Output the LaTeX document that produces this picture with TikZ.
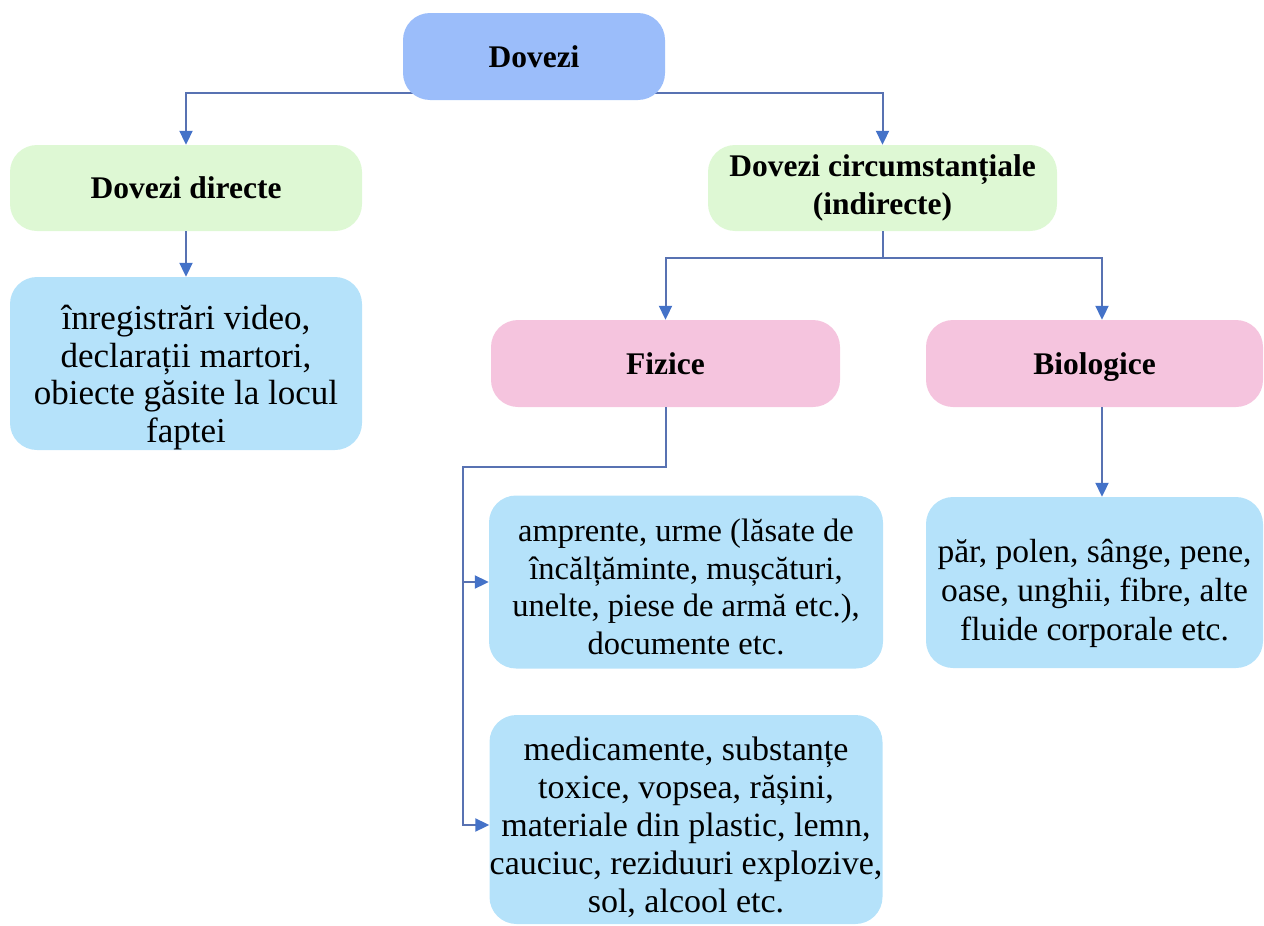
\documentclass[tikz,border=0pt]{standalone}
\usepackage{fontspec}
\setmainfont{Liberation Serif}
\usetikzlibrary{arrows.meta,backgrounds}
\definecolor{topblue}{RGB}{155,189,250}
\definecolor{lightgreen}{RGB}{222,248,212}
\definecolor{pinkbox}{RGB}{245,196,222}
\definecolor{skyblue}{RGB}{181,226,250}
\definecolor{linkblue}{RGB}{88,114,178}
\definecolor{tipblue}{RGB}{68,114,200}
\begin{document}
\begin{tikzpicture}[x=1pt,y=-1pt,
  box/.style={rounded corners=27pt, inner sep=0pt, align=center, text=black},
  title/.style={box, font=\fontsize{31.5}{38}\selectfont\bfseries},
  bodybox/.style={box, fill=skyblue},
  bodytext/.style={inner sep=0pt, align=center, text=black},
  link/.style={draw=linkblue, line width=2pt},
  arrow/.style={link, -{Triangle[width=13pt,length=14pt,color=tipblue]}}]
\useasboundingbox (0,0) rectangle (1264,926);

% category boxes
\node[title, fill=topblue, minimum width=262pt, minimum height=87pt] (top) at (534,56.5) {Dovezi};
\node[title, fill=lightgreen, minimum width=352pt, minimum height=86pt] (direct) at (186,188) {Dovezi directe};
\node[title, fill=lightgreen, minimum width=349pt, minimum height=86pt] (circ) at (882.5,188) {Dovezi circumstanțiale\\(indirecte)};
\node[title, fill=pinkbox, minimum width=349pt, minimum height=87pt] (fiz) at (665.5,363.5) {Fizice};
\node[title, fill=pinkbox, minimum width=337pt, minimum height=87pt, text depth=0pt] (bio) at (1094.5,363.5) {Biologice};

% example boxes
\node[bodybox, minimum width=352pt, minimum height=173pt] (dcont) at (186,363.5) {};
\node[bodybox, minimum width=394pt, minimum height=173pt] (amp) at (686,582) {};
\node[bodybox, minimum width=337pt, minimum height=171pt] (bcont) at (1094.5,582.5) {};
\node[bodybox, minimum width=393pt, minimum height=209pt] (med) at (686,819.5) {};

\node[bodytext, font=\fontsize{35}{37.5}\selectfont] (dtext) at ([yshift=-14pt]dcont.center)
  {înregistrări video,\\declarații martori,\\obiecte găsite la locul\\faptei};
\node[bodytext, font=\fontsize{32.5}{37.7}\selectfont] (atext) at ([yshift=-5pt]amp.center)
  {amprente, urme (lăsate de\\încălțăminte, mușcături,\\unelte, piese de armă etc.),\\documente etc.};
\node[bodytext, font=\fontsize{33.5}{39}\selectfont] (btext) at ([yshift=-11pt]bcont.center)
  {păr, polen, sânge, pene,\\oase, unghii, fibre, alte\\fluide corporale etc.};
\node[bodytext, font=\fontsize{34}{38}\selectfont] (mtext) at ([yshift=-8pt]med.center)
  {medicamente, substanțe\\toxice, vopsea, rășini,\\materiale din plastic, lemn,\\cauciuc, reziduuri explozive,\\sol, alcool etc.};

% connectors
\coordinate (tsplit) at (534,93);
\coordinate (csplit) at (882.5,258);
\coordinate (fbend) at (463,467);
\begin{scope}[on background layer]
  \draw[arrow] (top.center |- tsplit) -| (direct.north);
  \draw[arrow] (top.center |- tsplit) -| (circ.north);
\end{scope}
\draw[arrow] (direct.south) -- (dcont.north);
\draw[link] (circ.south) -- (csplit);
\draw[arrow] (csplit) -| (fiz.north);
\draw[arrow] (csplit) -| ([xshift=7.5pt]bio.north);
\draw[arrow] ([xshift=7.5pt]bio.south) -- ([xshift=7.5pt]bcont.north);
\draw[arrow] (fiz.south) |- (fbend) |- ([yshift=-5.5pt]med.west);
\draw[arrow] (fbend |- amp.west) -- (amp.west);
\end{tikzpicture}
\end{document}
